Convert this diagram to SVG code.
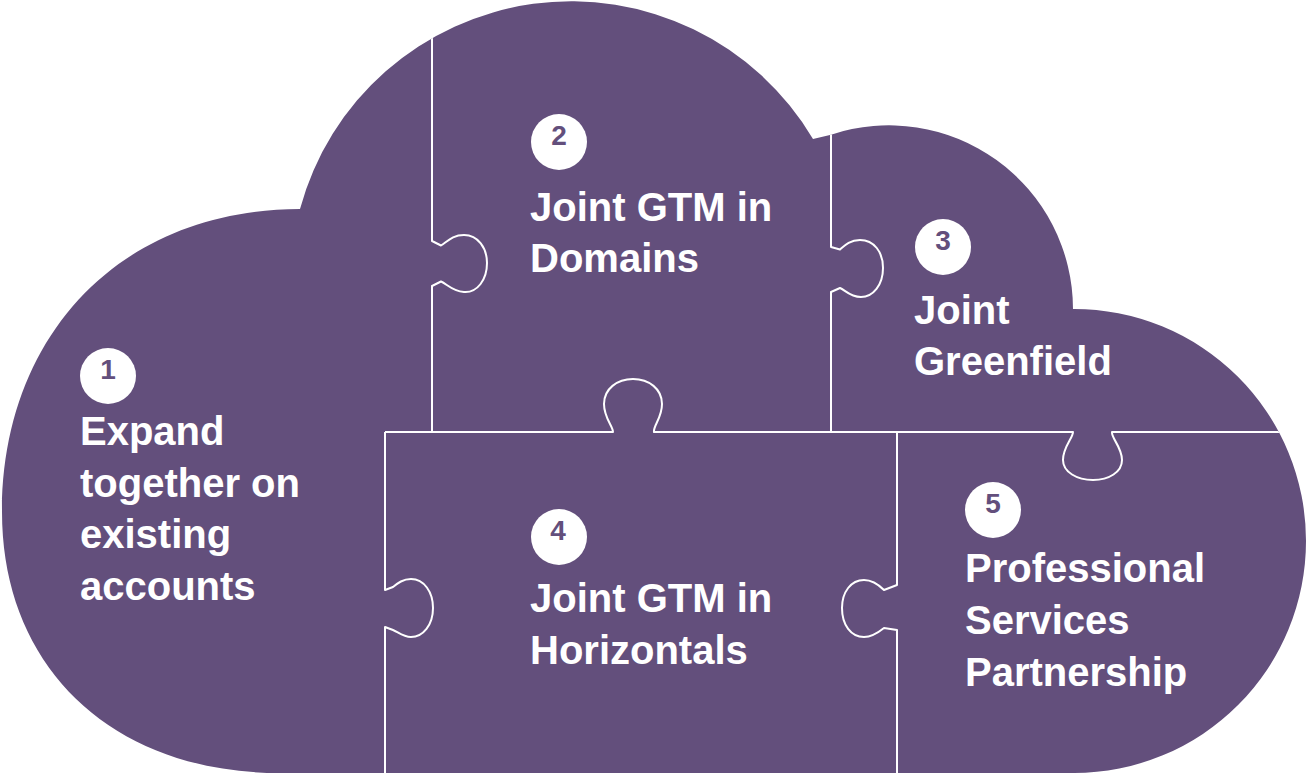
<svg xmlns="http://www.w3.org/2000/svg" width="1308" height="778" viewBox="0 0 1308 778">
<style>
.cloud{fill:#634F7C}
.seam{fill:none;stroke:#FFFFFF;stroke-width:2;stroke-linejoin:round}
.label{font-family:"Liberation Sans",Arial,Helvetica,sans-serif;font-weight:bold;font-size:40px;fill:#FFFFFF}
.badge{fill:#FFFFFF}
.num{font-family:"Liberation Sans",Arial,Helvetica,sans-serif;font-weight:bold;font-size:28px;fill:#634F7C;text-anchor:middle}
</style>
<defs>
<path id="cloudShape" d="M300,209 A281,281 0 0 1 813,139 L831,134.7 A184,184 0 0 1 1073,309 A232,232 0 0 1 1306,541 A232,232 0 0 1 1074,773 L280,773 C113,773 2,668 2,512 C2,335 121,209 300,209 Z"/>
<clipPath id="cloudClip"><use href="#cloudShape"/></clipPath>
</defs>
<g id="cloud"><use href="#cloudShape" class="cloud"/></g>
<g id="connectors" clip-path="url(#cloudClip)">
<path class="seam" d="M432,20 V241 L441,245.5 C447,242 452,235 464,235 C478,235 487,248 487,263 C487,280 477,293 464,292 C452,291 447,284 441,281.5 L432,286 V432"/>
<path class="seam" d="M831,110 V247 L840,249.5 C845,245 850,240 860,240 C874,240 883,252 883,268 C883,285 873,297 861,297 C850,297 845,290 840,288 L831,292 V432"/>
<path class="seam" d="M385,432 H613 C613,426 604,418 604,404 C604,389 617,379 633,379 C649,379 662,389 662,404 C662,418 653,426 654,432 H1073 C1073,438 1063,447 1063,460 C1063,472 1077,480 1093,480 C1109,480 1122,472 1122,460 C1122,447 1111,438 1112,432 H1300"/>
<path class="seam" d="M385,432 V590 L393,587 C398,583 403,579 411,579 C424,579 433,592 433,608 C433,625 423,637 411,637 C403,637 398,632 393,630 L385,627 V790"/>
<path class="seam" d="M897,432 V585 L884,590 C879,585 872,580 864,580 C851,580 842,592 842,608 C842,625 851,637 864,637 C872,637 879,632 884,628 L897,630 V790"/>
</g>
<g id="piece-1">
<circle class="badge" cx="108" cy="376" r="28"/>
<text class="num" x="108" y="379">1</text>
<text class="label" x="80" y="445">Expand</text>
<text class="label" x="80" y="497">together on</text>
<text class="label" x="80" y="548">existing</text>
<text class="label" x="80" y="600">accounts</text>
</g>
<g id="piece-2">
<circle class="badge" cx="559" cy="142" r="28"/>
<text class="num" x="559" y="145">2</text>
<text class="label" x="530" y="221">Joint GTM in</text>
<text class="label" x="530" y="272">Domains</text>
</g>
<g id="piece-3">
<circle class="badge" cx="943" cy="247" r="28"/>
<text class="num" x="943" y="250">3</text>
<text class="label" x="914" y="324">Joint</text>
<text class="label" x="914" y="375">Greenfield</text>
</g>
<g id="piece-4">
<circle class="badge" cx="559" cy="537" r="28"/>
<text class="num" x="558" y="540">4</text>
<text class="label" x="530" y="612">Joint GTM in</text>
<text class="label" x="530" y="664">Horizontals</text>
</g>
<g id="piece-5">
<circle class="badge" cx="993" cy="510" r="28"/>
<text class="num" x="993" y="513">5</text>
<text class="label" x="965" y="582">Professional</text>
<text class="label" x="965" y="634">Services</text>
<text class="label" x="965" y="686">Partnership</text>
</g>
</svg>
